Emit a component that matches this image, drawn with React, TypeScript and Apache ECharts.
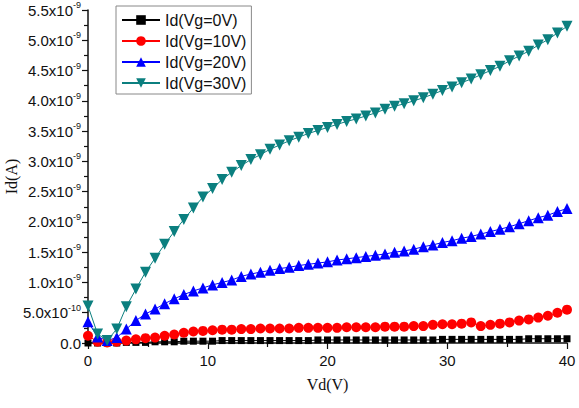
import React, { useEffect, useRef } from "react";
import * as echarts from "echarts";

const VD = [0, 0.8, 1.6, 2.4, 3.2, 4, 4.8, 5.6, 6.4, 7.2, 8, 8.8, 9.6, 10.4, 11.2, 12, 12.8, 13.6, 14.4, 15.2, 16, 16.8, 17.6, 18.4, 19.2, 20, 20.8, 21.6, 22.4, 23.2, 24, 24.8, 25.6, 26.4, 27.2, 28, 28.8, 29.6, 30.4, 31.2, 32, 32.8, 33.6, 34.4, 35.2, 36, 36.8, 37.6, 38.4, 39.2, 40];

// currents in nA (x1e-9 A)
const ID_VG0 = [0.0, 0.0, 0.0, 0.0, 0.01, 0.01, 0.01, 0.02, 0.02, 0.02, 0.03, 0.03, 0.03, 0.03, 0.04, 0.04, 0.04, 0.04, 0.04, 0.04, 0.04, 0.04, 0.04, 0.04, 0.05, 0.05, 0.05, 0.05, 0.05, 0.05, 0.05, 0.05, 0.05, 0.05, 0.05, 0.05, 0.05, 0.06, 0.06, 0.06, 0.06, 0.06, 0.06, 0.06, 0.06, 0.06, 0.07, 0.07, 0.07, 0.07, 0.07];
const ID_VG10 = [0.12, 0.02, 0.01, 0.02, 0.04, 0.06, 0.08, 0.09, 0.12, 0.14, 0.17, 0.19, 0.2, 0.21, 0.22, 0.22, 0.23, 0.23, 0.24, 0.24, 0.24, 0.24, 0.25, 0.25, 0.25, 0.25, 0.25, 0.26, 0.26, 0.26, 0.26, 0.27, 0.27, 0.27, 0.28, 0.28, 0.3, 0.31, 0.31, 0.32, 0.34, 0.28, 0.3, 0.32, 0.34, 0.37, 0.39, 0.42, 0.45, 0.5, 0.55];
const ID_VG20 = [0.35, 0.1, 0.04, 0.09, 0.23, 0.37, 0.48, 0.56, 0.65, 0.73, 0.8, 0.86, 0.91, 0.96, 1.0, 1.04, 1.1, 1.14, 1.17, 1.2, 1.23, 1.25, 1.28, 1.3, 1.32, 1.34, 1.37, 1.39, 1.41, 1.43, 1.45, 1.47, 1.5, 1.52, 1.55, 1.59, 1.62, 1.66, 1.69, 1.73, 1.76, 1.8, 1.84, 1.88, 1.92, 1.97, 2.02, 2.07, 2.11, 2.17, 2.22];
const ID_VG30 = [0.61, 0.15, 0.04, 0.23, 0.6, 0.89, 1.17, 1.4, 1.63, 1.84, 2.04, 2.23, 2.41, 2.55, 2.7, 2.82, 2.93, 3.03, 3.11, 3.2, 3.27, 3.34, 3.4, 3.46, 3.51, 3.56, 3.61, 3.66, 3.7, 3.75, 3.8, 3.86, 3.91, 3.95, 4.0, 4.05, 4.11, 4.17, 4.23, 4.3, 4.36, 4.43, 4.5, 4.57, 4.66, 4.74, 4.82, 4.92, 5.01, 5.12, 5.23];

const SERIES_NAMES = ["Id(Vg=0V)", "Id(Vg=10V)", "Id(Vg=20V)", "Id(Vg=30V)"];
const X_TICKS = [0, 10, 20, 30, 40];

const SANS = "Liberation Sans, Arial, sans-serif";
const SERIF = "Liberation Serif, Times New Roman, serif";

const pairs = (ys: number[]) => VD.map((x, i) => [x, ys[i] * 1e-9]);

export default function App() {
  const ref = useRef<HTMLDivElement>(null);
  useEffect(() => {
    if (!ref.current) return;
    const chart = echarts.init(ref.current, null, { renderer: "svg" });
    const mk = (name: string, ys: number[], color: string, symbol: string, size: number, rotate = 0) => ({
      name,
      type: "line",
      data: pairs(ys),
      symbol,
      symbolSize: size,
      symbolRotate: rotate,
      showAllSymbol: true,
      lineStyle: { color, width: 1 },
      itemStyle: { color, borderWidth: 0 },
      clip: true,
    });
    chart.setOption({
      animation: false,
      backgroundColor: "#fff",
      grid: { left: 88, right: 12, top: 10, bottom: 65, containLabel: false, outerBoundsMode: "none" },
      legend: {
        orient: "vertical",
        left: 116,
        top: 6,
        itemWidth: 38,
        itemHeight: 12,
        itemGap: 5,
        padding: [6, 5, 3, 5],
        borderColor: "#888",
        borderWidth: 1,
        textStyle: { fontFamily: SANS, fontSize: 16, color: "#111", lineHeight: 16 },
        data: SERIES_NAMES,
      },
      xAxis: {
        type: "value",
        min: X_TICKS[0],
        max: X_TICKS[X_TICKS.length - 1],
        interval: 10,
        name: "Vd(V)",
        nameLocation: "middle",
        nameGap: 33,
        nameMoveOverlap: false,
        nameTextStyle: { fontFamily: SERIF, fontSize: 16, color: "#111" },
        axisLine: { show: true, onZero: false, lineStyle: { color: "#111", width: 1.5 } },
        axisTick: { show: true, length: 6, lineStyle: { color: "#111", width: 1.2 } },
        minorTick: { show: true, splitNumber: 2, length: 4, lineStyle: { color: "#111", width: 1.2 } },
        splitLine: { show: false },
        axisLabel: { fontFamily: SANS, fontSize: 15, color: "#111", margin: 10 },
      },
      yAxis: {
        type: "value",
        min: 0,
        max: 5.5e-9,
        interval: 5e-10,
        name: "Id(A)",
        nameLocation: "middle",
        nameGap: 69,
        nameRotate: 90,
        nameMoveOverlap: false,
        nameTextStyle: { fontFamily: SERIF, fontSize: 16, color: "#111", lineHeight: 16 },
        axisLine: { show: true, onZero: false, lineStyle: { color: "#111", width: 1.5 } },
        axisTick: { show: true, length: 6, lineStyle: { color: "#111", width: 1.2 } },
        minorTick: { show: true, splitNumber: 2, length: 4, lineStyle: { color: "#111", width: 1.2 } },
        splitLine: { show: false },
        axisLabel: {
          fontFamily: SANS,
          fontSize: 15,
          color: "#111",
          margin: 7,
          formatter: (v: number) => {
            const k = Math.round(v / 5e-10);
            if (k === 0) return "0.0";
            if (k === 1) return "{b|5.0x10}{s|-10}";
            return `{b|${(k * 0.5).toFixed(1)}x10}{s|-9}`;
          },
          rich: {
            b: { fontFamily: SANS, fontSize: 15, color: "#111", lineHeight: 19 },
            s: { fontFamily: SANS, fontSize: 9, color: "#111", lineHeight: 10, verticalAlign: "top" },
          },
        },
      },
      series: [
        mk(SERIES_NAMES[0], ID_VG0, "#000000", "rect", 7),
        mk(SERIES_NAMES[1], ID_VG10, "#ff0000", "circle", 10),
        mk(SERIES_NAMES[2], ID_VG20, "#0000ff", "triangle", 11),
        mk(SERIES_NAMES[3], ID_VG30, "#0b7f7f", "triangle", 11, 180),
      ],
    });
    return () => chart.dispose();
  }, []);
  return <div ref={ref} style={{ position: "fixed", left: 0, top: 0, width: 579, height: 408 }} />;
}
